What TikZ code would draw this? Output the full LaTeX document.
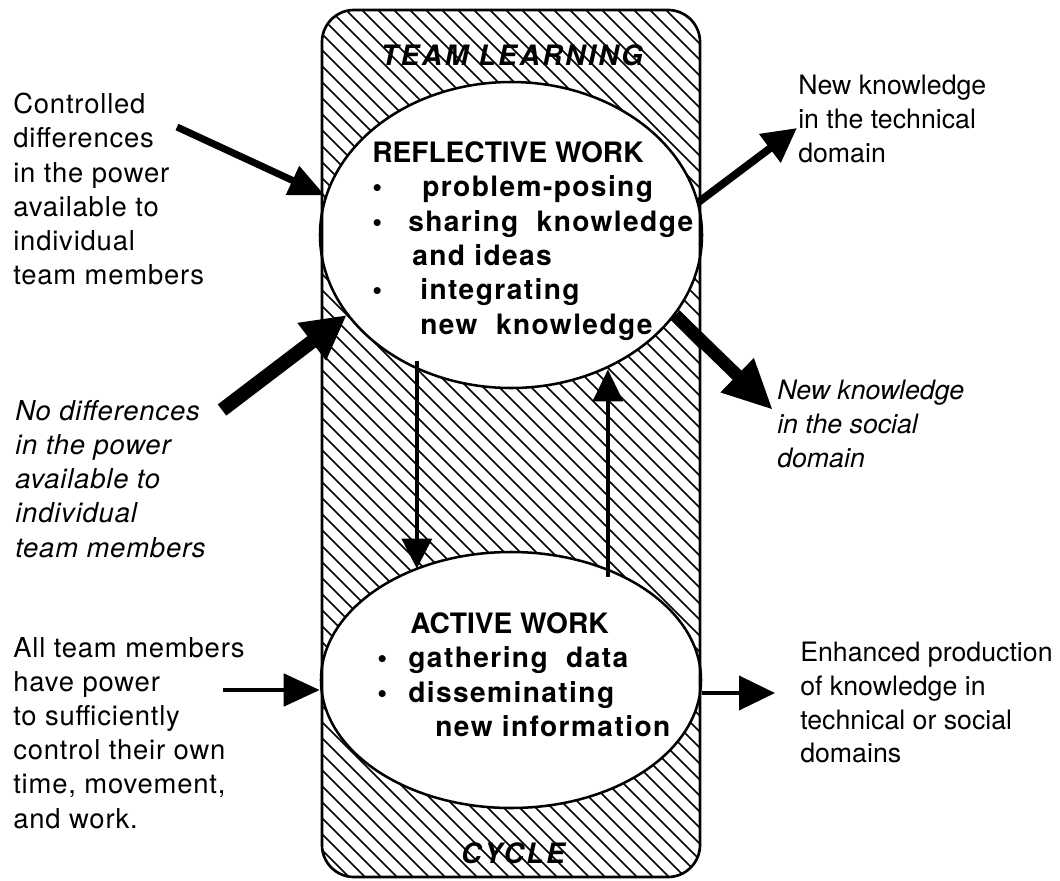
\documentclass[tikz,border=0pt]{standalone}
\usepackage{fontspec}
\setmainfont{TeX Gyre Heros}
\newfontfamily\wide[LetterSpace=9]{TeX Gyre Heros}
\newfontfamily\spaced[LetterSpace=5]{TeX Gyre Heros}
\newfontfamily\airy[LetterSpace=3]{TeX Gyre Heros}
\usetikzlibrary{arrows.meta,shapes.geometric,positioning}

\newcommand{\bul}[1]{\makebox[#1][l]{\textbullet}}

\begin{document}
\begin{tikzpicture}[x=0.25mm, y=-0.25mm,
    every node/.style={inner sep=0pt, font=\fontsize{19}{24}\selectfont},
    label/.style={anchor=north west, align=left},
    loose/.style={font=\fontsize{19.5}{24.3}\selectfont\airy},
    slanted/.style={font=\fontsize{19.5}{24.3}\selectfont\airy\itshape},
    work/.style={ellipse, draw, line width=1.8pt, fill=white},
    worktext/.style={anchor=north west, align=left, font=\fontsize{20}{24.5}\selectfont\spaced\bfseries},
    title/.style={font=\fontsize{20}{24}\selectfont\wide\bfseries\itshape},
    hatch/.style={line width=1.1pt}]
    \useasboundingbox (0,0) rectangle (1060,881);

    % hatched cycle band
    \begin{scope}
      \clip[rounded corners=8mm] (322,10) rectangle (700,877);
      \foreach \s in {-560,-544,...,710}
        \draw[hatch] (\s,0) -- ++(900,900);
    \end{scope}

    \node[title] (team) at (512,55) {TEAM LEARNING};
    \node[title] (cycle) at (513,853) {CYCLE};

    \node[work, minimum width=95.5mm, minimum height=76.5mm] (reflect) at (511,235) {};
    \node[work, minimum width=95mm, minimum height=64mm] (active) at (511,680) {};

    \draw[line width=1.9pt, rounded corners=8mm] (322,10) rectangle (700,877);

    \node[worktext] (reflect-text) at (372,141) {{\normalfont\bfseries REFLECTIVE WORK}\\
      \bul{12.5mm}problem-posing\\
      \bul{9mm}sharing\ \ knowledge\\
      \hspace*{10mm}and ideas\\
      \bul{12mm}integrating\\
      \hspace*{12mm}new\ \ knowledge};
    \node[worktext] (active-text) at (377,612) {\hspace*{8.25mm}{\normalfont\bfseries ACTIVE WORK}\\
      \bul{7.75mm}gathering\ \ data\\
      \bul{7.75mm}disseminating\\
      \hspace*{14.5mm}new information};

    \node[label, loose] (ctrl) at (13,93) {Controlled\\differences\\in the power\\available to\\individual\\team members};
    \node[label, slanted] (nodiff) at (15,400) {No differences\\in the power\\available to\\individual\\team members};
    \node[label, loose] (allpow) at (13,637) {All team members\\have power\\to sufficiently\\control their own\\time, movement,\\and work.};
    \node[label] (tech) at (798,75) {New knowledge\\in the technical\\domain};
    \node[label, font=\fontsize{19}{24}\selectfont\itshape] (social) at (777,380) {New knowledge\\in the social\\domain};
    \node[label] (enh) at (800,642) {Enhanced production\\of knowledge in\\technical or social\\domains};

    \coordinate (ctrl-tail) at (177,127);
    \coordinate (nodiff-tail) at (222,410);
    \coordinate (allpow-tail) at (223,690);
    \coordinate (tech-tip) at (797,128);
    \coordinate (social-tip) at (773,410);
    \coordinate (enh-tip) at (775,693);

    \draw[line width=5pt, -{Triangle[length=9mm, width=7.5mm]}] (ctrl-tail) -- (reflect.168);
    \draw[line width=10pt, -{Triangle[length=11mm, width=11mm]}] (nodiff-tail) -- (reflect.206);
    \draw[line width=3.5pt, -{Triangle[length=9mm, width=8mm]}] (allpow-tail) -- (allpow-tail -| active.west);

    \draw[line width=5.5pt, -{Triangle[length=8.5mm, width=8.5mm]}] (reflect.10) -- (tech-tip);
    \draw[line width=9pt, -{Triangle[length=12.5mm, width=11mm]}] (reflect.334) -- (social-tip);
    \draw[line width=2.8pt, -{Triangle[length=9mm, width=8.5mm]}] (active.east |- enh-tip) -- (enh-tip);

    \draw[line width=2.6pt, -{Triangle[length=7.5mm, width=7.5mm]}] ([yshift=2mm]reflect.235) -- (reflect.235 |- active.131);
    \draw[line width=2.6pt, -{Triangle[length=8mm, width=7.5mm]}] ([yshift=-2mm]active.49) -- (active.49 |- reflect.305);
\end{tikzpicture}
\end{document}
